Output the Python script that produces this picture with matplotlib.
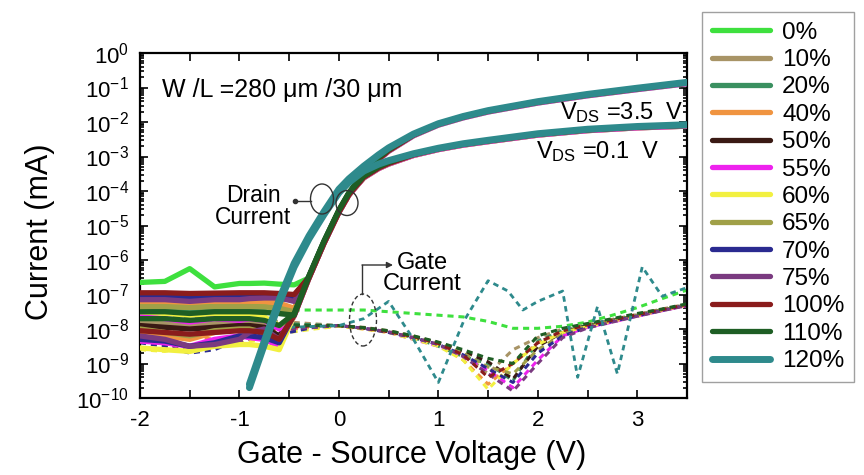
# transfer curves (Id and Ig vs Vgs) for 13 strain levels, W/L = 280/30 um
import numpy as np
import matplotlib
matplotlib.use("Agg")
import matplotlib.pyplot as plt
from matplotlib.patches import Ellipse
from matplotlib.ticker import MultipleLocator, LogLocator, NullFormatter

plt.rcParams["font.family"] = ["Liberation Sans", "DejaVu Sans"]
plt.rcParams["mathtext.fontset"] = "custom"
plt.rcParams["mathtext.rm"] = "Liberation Sans"
plt.rcParams["mathtext.it"] = "Liberation Sans:italic"
plt.rcParams["mathtext.bf"] = "Liberation Sans:bold"
plt.rcParams["axes.unicode_minus"] = False

LABELS = ["0%", "10%", "20%", "40%", "50%", "55%", "60%", "65%",
          "70%", "75%", "100%", "110%", "120%"]
COLORS = ["#3ee03e", "#a89466", "#3a9060", "#f09440", "#3a1a14", "#ee22ee",
          "#f2f040", "#a0a048", "#2a2a90", "#7a3a80", "#8a1c1c", "#1e5e24",
          "#2e8a8c"]

# drain current, log10(mA)
VGS_D = [-2.0, -1.75, -1.5, -1.25, -1.0, -0.9, -0.75, -0.6, -0.45, -0.3, -0.15, 0.0,
         0.1, 0.25, 0.4, 0.5, 0.75, 1.0, 1.25, 1.5, 2.0, 2.5, 3.0, 3.5]
nan = np.nan
ID_HI = [  # Vds = 3.5 V
    [-6.65, -6.62, -6.25, -6.78, -6.68, -6.68, -6.67, -6.7, -6.72, -6.52, -5.52, -4.62, -4.12, -3.52, -3.09, -2.85, -2.4, -2.09, -1.88, -1.71, -1.45, -1.24, -1.06, -0.89],
    [-7.0, -7.0, -7.02, -7.01, -7.0, -7.0, -7.0, -7.0, -7.05, -6.5, -5.5, -4.6, -4.1, -3.5, -3.07, -2.83, -2.38, -2.07, -1.86, -1.69, -1.43, -1.22, -1.04, -0.87],
    [-7.1, -7.12, -7.1, -7.1, -7.08, -7.1, -7.1, -7.12, -7.15, -6.48, -5.48, -4.58, -4.08, -3.48, -3.05, -2.81, -2.37, -2.06, -1.85, -1.68, -1.42, -1.21, -1.03, -0.86],
    [-7.2, -7.22, -7.25, -7.2, -7.2, -7.2, -7.22, -7.25, -7.4, -6.5, -5.5, -4.6, -4.1, -3.5, -3.07, -2.83, -2.38, -2.07, -1.86, -1.69, -1.43, -1.22, -1.04, -0.87],
    [-6.98, -6.98, -7.0, -7.0, -6.98, -6.98, -7.0, -7.0, -7.05, -6.5, -5.5, -4.6, -4.1, -3.5, -3.07, -2.83, -2.38, -2.07, -1.86, -1.69, -1.43, -1.22, -1.04, -0.87],
    [-7.6, -7.7, -7.8, -7.7, -7.75, -7.7, -7.75, -8.0, -7.62, -6.52, -5.52, -4.62, -4.12, -3.52, -3.09, -2.85, -2.4, -2.09, -1.88, -1.71, -1.45, -1.24, -1.06, -0.89],
    [-7.5, -7.55, -7.6, -7.55, -7.6, -7.6, -7.65, -7.9, -7.6, -6.5, -5.5, -4.6, -4.1, -3.5, -3.07, -2.83, -2.38, -2.07, -1.86, -1.69, -1.43, -1.22, -1.04, -0.87],
    [-7.35, -7.35, -7.38, -7.35, -7.35, -7.35, -7.36, -7.4, -7.5, -6.5, -5.5, -4.6, -4.1, -3.5, -3.07, -2.83, -2.38, -2.07, -1.86, -1.69, -1.43, -1.22, -1.04, -0.87],
    [-7.05, -7.05, -7.08, -7.05, -7.05, -7.05, -7.02, -7.0, -7.1, -6.48, -5.48, -4.58, -4.08, -3.48, -3.05, -2.81, -2.37, -2.06, -1.85, -1.68, -1.42, -1.21, -1.03, -0.86],
    [-7.15, -7.15, -7.2, -7.15, -7.15, -7.12, -7.1, -7.1, -7.2, -6.5, -5.5, -4.6, -4.1, -3.5, -3.07, -2.83, -2.38, -2.07, -1.86, -1.69, -1.43, -1.22, -1.04, -0.87],
    [-6.95, -6.95, -6.97, -6.96, -6.95, -6.95, -6.95, -6.97, -7.0, -6.5, -5.5, -4.6, -4.1, -3.5, -3.07, -2.83, -2.38, -2.07, -1.86, -1.69, -1.43, -1.22, -1.04, -0.87],
    [-7.5, -7.5, -7.55, -7.5, -7.5, -7.5, -7.52, -7.55, -7.6, -6.45, -5.45, -4.55, -4.05, -3.45, -3.03, -2.8, -2.36, -2.05, -1.84, -1.67, -1.41, -1.2, -1.02, -0.85],
    [nan, nan, nan, nan, nan, -9.6, -8.35, -7.15, -6.1, -5.3, -4.6, -3.95, -3.65, -3.28, -2.95, -2.75, -2.35, -2.05, -1.84, -1.67, -1.41, -1.2, -1.02, -0.85],
]
ID_LO = [  # Vds = 0.1 V
    [-7.3, -7.3, -7.28, -7.3, -7.3, -7.3, -7.32, -7.35, -7.6, -6.52, -5.52, -4.62, -4.12, -3.62, -3.35, -3.22, -2.97, -2.8, -2.67, -2.57, -2.38, -2.25, -2.17, -2.12],
    [-7.8, -7.85, -7.9, -7.85, -7.8, -7.8, -7.85, -7.9, -7.6, -6.5, -5.5, -4.6, -4.1, -3.6, -3.33, -3.2, -2.95, -2.78, -2.65, -2.55, -2.36, -2.23, -2.15, -2.1],
    [-7.45, -7.45, -7.5, -7.45, -7.45, -7.45, -7.5, -7.55, -7.58, -6.48, -5.48, -4.58, -4.08, -3.58, -3.31, -3.18, -2.94, -2.77, -2.64, -2.54, -2.35, -2.22, -2.14, -2.09],
    [-8.1, -8.2, -8.3, -8.1, -8.0, -8.0, -8.1, -8.4, -7.62, -6.52, -5.52, -4.62, -4.12, -3.62, -3.35, -3.22, -2.97, -2.8, -2.67, -2.57, -2.38, -2.25, -2.17, -2.12],
    [-7.9, -7.95, -8.0, -7.95, -7.9, -7.9, -7.95, -8.2, -7.6, -6.5, -5.5, -4.6, -4.1, -3.6, -3.33, -3.2, -2.95, -2.78, -2.65, -2.55, -2.36, -2.23, -2.15, -2.1],
    [-8.35, -8.4, -8.5, -8.3, -8.2, -8.25, -8.3, -8.5, -7.62, -6.52, -5.52, -4.62, -4.12, -3.62, -3.35, -3.22, -2.97, -2.8, -2.67, -2.57, -2.38, -2.25, -2.17, -2.12],
    [-8.55, -8.6, -8.65, -8.5, -8.45, -8.45, -8.5, -8.6, -7.6, -6.5, -5.5, -4.6, -4.1, -3.6, -3.33, -3.2, -2.95, -2.78, -2.65, -2.55, -2.36, -2.23, -2.15, -2.1],
    [-8.0, -8.1, -8.2, -8.05, -8.0, -8.0, -8.1, -8.3, -7.6, -6.5, -5.5, -4.6, -4.1, -3.6, -3.33, -3.2, -2.95, -2.78, -2.65, -2.55, -2.36, -2.23, -2.15, -2.1],
    [-8.3, -8.35, -8.5, -8.4, -8.2, -8.2, -8.25, -8.4, -7.58, -6.48, -5.48, -4.58, -4.08, -3.58, -3.31, -3.18, -2.94, -2.77, -2.64, -2.54, -2.35, -2.22, -2.14, -2.09],
    [-8.2, -8.3, -8.5, -8.45, -8.3, -8.1, -8.0, -8.3, -7.6, -6.5, -5.5, -4.6, -4.1, -3.6, -3.33, -3.2, -2.95, -2.78, -2.65, -2.55, -2.36, -2.23, -2.15, -2.1],
    [-8.05, -8.1, -8.15, -8.1, -8.05, -8.05, -8.1, -8.3, -7.6, -6.5, -5.5, -4.6, -4.1, -3.6, -3.33, -3.2, -2.95, -2.78, -2.65, -2.55, -2.36, -2.23, -2.15, -2.1],
    [-7.7, -7.7, -7.75, -7.7, -7.7, -7.7, -7.75, -7.9, -7.55, -6.45, -5.45, -4.55, -4.05, -3.57, -3.3, -3.17, -2.93, -2.77, -2.64, -2.54, -2.35, -2.22, -2.14, -2.09],
    [nan, nan, nan, nan, nan, -9.7, -8.45, -7.25, -6.2, -5.38, -4.68, -4.05, -3.75, -3.42, -3.22, -3.12, -2.92, -2.76, -2.63, -2.53, -2.34, -2.21, -2.13, -2.08],
]

# gate current, log10(mA), first 12 series
VGS_G = [-2.0, -1.75, -1.5, -1.25, -1.0, -0.75, -0.5, -0.25, 0.0, 0.25, 0.5, 0.75,
         1.0, 1.25, 1.5, 1.75, 2.0, 2.25, 2.5, 2.75, 3.0, 3.25, 3.5]
IG = [
    [-7.35, -7.35, -7.3, -7.4, -7.4, -7.45, -7.45, -7.45, -7.45, -7.45, -7.5, -7.55, -7.6, -7.65, -7.78, -7.98, -7.98, -7.92, -7.8, -7.6, -7.38, -7.12, -6.87],
    [-7.6, -7.65, -7.7, -7.65, -7.7, -7.75, -7.8, -7.85, -7.9, -7.95, -8.05, -8.2, -8.4, -8.7, -9.3, -8.6, -8.25, -8.0, -7.88, -7.72, -7.58, -7.42, -7.28],
    [-7.7, -7.75, -7.7, -7.8, -7.75, -7.8, -7.85, -7.88, -7.9, -7.98, -8.08, -8.25, -8.5, -8.8, -9.0, -9.5, -8.35, -8.05, -7.9, -7.75, -7.6, -7.45, -7.3],
    [-8.3, -8.4, -8.2, -8.3, -8.2, -8.1, -8.0, -7.95, -7.92, -8.0, -8.1, -8.25, -8.45, -8.9, -9.6, -9.0, -8.4, -8.1, -7.92, -7.78, -7.62, -7.46, -7.32],
    [-7.9, -7.95, -8.0, -7.95, -7.95, -7.9, -7.9, -7.9, -7.9, -7.97, -8.07, -8.22, -8.4, -8.65, -8.95, -9.45, -8.5, -8.1, -7.9, -7.75, -7.6, -7.45, -7.3],
    [-8.3, -8.45, -8.6, -8.4, -8.3, -8.2, -8.05, -7.95, -7.9, -7.98, -8.1, -8.3, -8.5, -8.8, -9.2, -9.7, -8.9, -8.2, -7.95, -7.8, -7.63, -7.47, -7.32],
    [-8.6, -8.65, -8.5, -8.55, -8.4, -8.3, -8.1, -8.0, -7.92, -8.0, -8.1, -8.3, -8.5, -8.9, -9.75, -9.0, -8.45, -8.1, -7.93, -7.78, -7.62, -7.46, -7.31],
    [-8.0, -8.05, -8.15, -8.0, -8.1, -8.0, -7.95, -7.9, -7.9, -7.97, -8.07, -8.22, -8.42, -8.7, -9.1, -9.3, -8.6, -8.15, -7.92, -7.76, -7.6, -7.45, -7.3],
    [-8.4, -8.5, -8.7, -8.6, -8.3, -8.2, -8.1, -7.95, -7.9, -7.98, -8.1, -8.25, -8.45, -8.75, -9.15, -9.55, -8.7, -8.2, -7.95, -7.78, -7.62, -7.46, -7.31],
    [-8.3, -8.4, -8.6, -8.5, -8.4, -8.1, -8.0, -7.95, -7.9, -7.98, -8.08, -8.25, -8.45, -8.8, -9.3, -9.8, -9.0, -8.25, -7.97, -7.8, -7.63, -7.47, -7.32],
    [-8.1, -8.15, -8.2, -8.1, -8.05, -8.0, -7.95, -7.9, -7.9, -7.97, -8.08, -8.22, -8.42, -8.75, -9.4, -9.0, -8.4, -8.05, -7.88, -7.74, -7.58, -7.44, -7.29],
    [-7.8, -7.85, -7.8, -7.85, -7.8, -7.85, -7.88, -7.9, -7.9, -7.96, -8.05, -8.2, -8.38, -8.6, -8.85, -9.0, -8.2, -7.98, -7.84, -7.7, -7.55, -7.42, -7.27],
]
# 120% gate current is noisy, read on its own points
VGS_G120 = [-2.0, -1.5, -1.0, -0.5, 0.0, 0.25, 0.5, 0.75, 1.0, 1.25, 1.5, 1.7,
            1.85, 2.0, 2.25, 2.4, 2.6, 2.8, 3.05, 3.25, 3.5]
IG120 = [-7.9, -8.0, -7.9, -7.95, -7.9, -7.7, -7.2, -8.3, -9.55, -7.8, -6.6, -6.9,
         -7.45, -7.2, -6.9, -9.4, -7.35, -9.3, -6.2, -7.05, -6.8]

# axes box in pixels (864 x 475 canvas)
L, R, T, B = 140, 687, 53, 398
W, H = R - L, B - T


def frac(x, y):
    return ((x - L) / W, (B - y) / H)


fig = plt.figure(figsize=(8.64, 4.75), dpi=100)
ax = fig.add_axes([L / 864, (475 - B) / 475, W / 864, H / 475])

gate_ls = (0, (2.0, 1.6))
for g, c in zip(IG, COLORS[:-1]):
    ax.plot(VGS_G, 10 ** np.array(g), color=c, lw=2.2, ls=gate_ls, zorder=2)
ax.plot(VGS_G120, 10 ** np.array(IG120), color=COLORS[-1], lw=2.0, ls=gate_ls, zorder=2)

handles = []
for hi, lo, c, lab in zip(ID_HI, ID_LO, COLORS, LABELS):
    lw = 5.0 if lab == "120%" else 3.8
    ax.plot(VGS_D, 10 ** np.array(lo), color=c, lw=lw, zorder=3,
            solid_capstyle="round", solid_joinstyle="round")
    h, = ax.plot(VGS_D, 10 ** np.array(hi), color=c, lw=lw, zorder=3, label=lab,
                 solid_capstyle="round", solid_joinstyle="round")
    handles.append(h)

ax.set_yscale("log")
ax.set_xlim(-2, 3.5)
ax.set_ylim(1e-10, 1)
ax.xaxis.set_major_locator(MultipleLocator(1))
ax.xaxis.set_minor_locator(MultipleLocator(0.5))
ax.yaxis.set_major_locator(LogLocator(base=10, numticks=20))
ax.yaxis.set_minor_locator(LogLocator(base=10, subs=np.arange(2, 10), numticks=20))
ax.yaxis.set_minor_formatter(NullFormatter())
ax.tick_params(which="both", direction="in", top=True, right=True, width=1.2)
ax.tick_params(which="major", length=6, labelsize=16)
ax.tick_params(axis="x", which="major", pad=9)
ax.tick_params(axis="y", which="major", pad=8)
ax.tick_params(axis="x", which="minor", length=6)
ax.tick_params(axis="y", which="minor", length=3)
for s in ax.spines.values():
    s.set_linewidth(1.6)

ax.set_xlabel("Gate - Source Voltage (V)", fontsize=22)
ax.set_ylabel("Current (mA)", fontsize=22)
ax.xaxis.set_label_coords(*frac(412, 440))
ax.yaxis.set_label_coords(*frac(55, 232))

ax.text(-1.78, 10 ** -1.07, "W /L =280 μm /30 μm", fontsize=18, ha="left", va="center")
ax.text(3.47, 10 ** -1.74, r"V$_{\rm DS}$ =3.5  V", fontsize=17, ha="right", va="center")
ax.text(3.22, 10 ** -2.87, r"V$_{\rm DS}$ =0.1  V", fontsize=17, ha="right", va="center")
ax.text(-0.86, 10 ** -4.45, "Drain\nCurrent", fontsize=16.5, ha="center", va="center",
        linespacing=0.95)
ax.text(0.84, 10 ** -6.38, "Gate\nCurrent", fontsize=17, ha="center", va="center",
        linespacing=0.95)

# callout ellipses and leaders
ax.add_patch(Ellipse(frac(322, 199), 23 / W, 30 / H, transform=ax.transAxes,
                     fill=False, ec="#333333", lw=1.0, zorder=5))
ax.add_patch(Ellipse(frac(347, 203), 22 / W, 25 / H, transform=ax.transAxes,
                     fill=False, ec="#333333", lw=1.0, zorder=5))
ax.plot(*zip(frac(295, 201), frac(311, 201)), transform=ax.transAxes,
        color="#333333", lw=1.0, zorder=5)
ax.plot(*frac(295, 201), transform=ax.transAxes, marker="o", ms=3,
        color="#333333", zorder=5)
ax.add_patch(Ellipse(frac(363, 320), 27 / W, 52 / H, transform=ax.transAxes,
                     fill=False, ec="#333333", lw=1.0, ls=(0, (3, 2)), zorder=5))
ax.plot(*zip(frac(362, 294), frac(362, 265)), transform=ax.transAxes,
        color="#333333", lw=1.0, zorder=5)
ax.annotate("", xy=frac(393, 265), xytext=frac(362, 265), xycoords="axes fraction",
            textcoords="axes fraction",
            arrowprops=dict(arrowstyle="-|>", color="#333333", lw=1.0,
                            mutation_scale=9, shrinkA=0, shrinkB=0), zorder=5)

fig.legend(handles, LABELS, loc="upper left", bbox_to_anchor=(702 / 864, 463 / 475),
           frameon=True, fancybox=False, edgecolor="#888888", fontsize=17.5,
           handlelength=2.4, handletextpad=0.5, labelspacing=0.22, borderpad=0.4,
           borderaxespad=0.0)

fig.savefig("out.png", dpi=100)
